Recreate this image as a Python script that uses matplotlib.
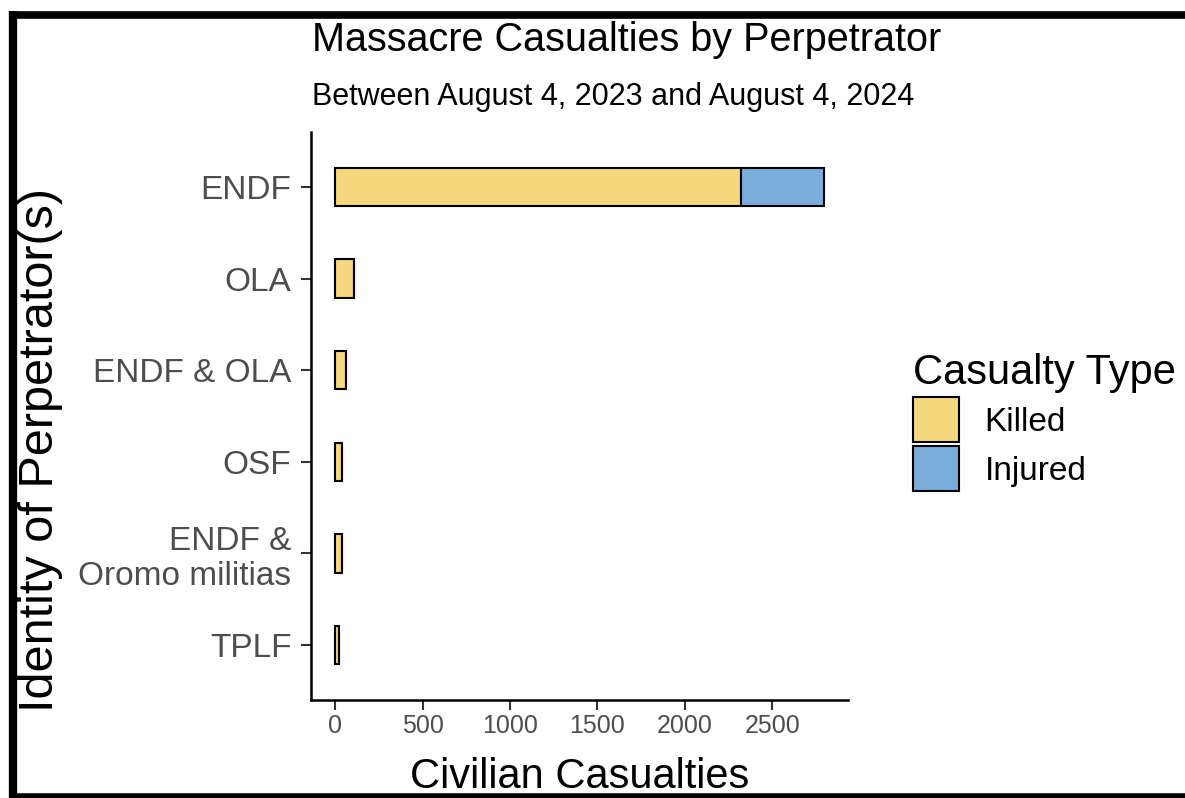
import matplotlib
matplotlib.use("Agg")
import matplotlib.pyplot as plt
from matplotlib.patches import Patch
from matplotlib.lines import Line2D

plt.rcParams["font.family"] = ["Liberation Sans", "DejaVu Sans"]

perpetrators = ["ENDF", "OLA", "ENDF & OLA", "OSF", "ENDF &\nOromo militias", "TPLF"]
killed = [2319, 108, 63, 40, 38, 22]
injured = [475, 0, 0, 0, 0, 0]
x_ticks = [0, 500, 1000, 1500, 2000, 2500]

KILLED_COL = "#F5D77E"
INJURED_COL = "#7BAEDB"

fig = plt.figure(figsize=(11.85, 7.98), dpi=100)
ax = fig.add_axes([0.2624, 0.1228, 0.4532, 0.7118])

ypos = list(range(len(perpetrators)))[::-1]
ax.barh(ypos, killed, height=0.42, color=KILLED_COL, edgecolor="black", linewidth=1.5)
ax.barh(ypos, injured, left=killed, height=0.42, color=INJURED_COL,
        edgecolor="black", linewidth=1.5)

ax.set_xlim(-140, 2934)
ax.set_ylim(-0.6, len(perpetrators) - 0.4)
ax.set_xticks(x_ticks)
ax.set_yticks(ypos)
ax.set_yticklabels(perpetrators, fontsize=24, color="#4D4D4D", linespacing=1.15)
ax.tick_params(axis="x", labelsize=18, labelcolor="#4D4D4D", length=7, width=1.5,
               color="#333333", pad=3)
ax.tick_params(axis="y", length=7, width=1.5, color="#333333", pad=7)
for s in ["top", "right"]:
    ax.spines[s].set_visible(False)
for s in ["left", "bottom"]:
    ax.spines[s].set_linewidth(1.8)

ax.set_xlabel("Civilian Casualties", fontsize=30)
ax.xaxis.set_label_coords(0.5, -0.10)
ax.set_ylabel("Identity of Perpetrator(s)", fontsize=35)
ax.yaxis.set_label_coords(-0.462, 0.44)

fig.text(0.2633, 0.950, "Massacre Casualties by Perpetrator", fontsize=28.5, va="center")
fig.text(0.2633, 0.878, "Between August 4, 2023 and August 4, 2024", fontsize=22, va="center")

handles = [Patch(facecolor=KILLED_COL, edgecolor="black", linewidth=1.5, label="Killed"),
           Patch(facecolor=INJURED_COL, edgecolor="black", linewidth=1.5, label="Injured")]
leg = fig.legend(handles=handles, title="Casualty Type", loc="upper left",
                 bbox_to_anchor=(0.759, 0.574), frameon=False, fontsize=24,
                 title_fontsize=30, handlelength=1.4, handleheight=1.7,
                 handletextpad=0.75, labelspacing=0.12, borderaxespad=0)
leg._legend_box.align = "left"

# outer black frame
fig.add_artist(Line2D([0.0110, 0.0110], [0.0, 0.986], color="black", lw=6,
                      transform=fig.transFigure, solid_capstyle="butt"))
fig.add_artist(Line2D([0.0075, 1.0], [0.9815, 0.9815], color="black", lw=5.5,
                      transform=fig.transFigure, solid_capstyle="butt"))
fig.add_artist(Line2D([0.0075, 1.0], [0.0025, 0.0025], color="black", lw=4,
                      transform=fig.transFigure, solid_capstyle="butt"))

fig.savefig("out.png", dpi=100)
